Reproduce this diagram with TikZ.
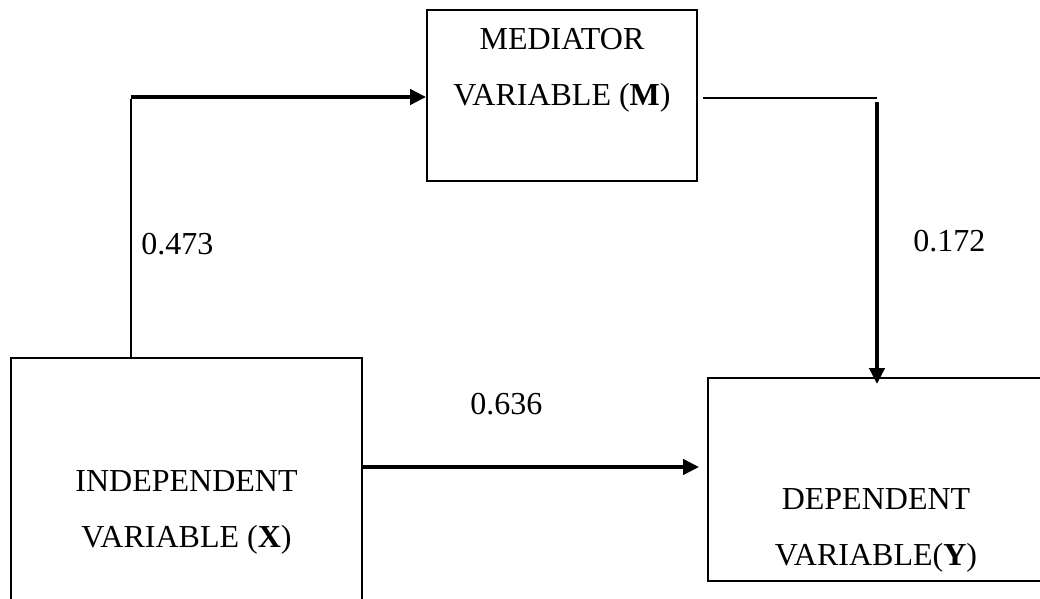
\documentclass[tikz,border=0pt]{standalone}
\usepackage{fontspec}
\setmainfont{Liberation Serif}
\usetikzlibrary{arrows.meta,positioning}
\tikzset{
  varbox/.style = {rectangle, draw=black, line width=0.9pt, inner sep=0pt},
  vartext/.style = {align=center, font=\fontsize{16}{28}\selectfont, inner sep=0pt},
  coeff/.style = {font=\fontsize{16}{19}\selectfont, inner sep=0pt, anchor=base west},
  thinline/.style = {line width=1pt},
  thickline/.style = {line width=2pt}
}

\begin{document}
\begin{tikzpicture}[x=0.5pt,y=-0.5pt,>={Triangle[length=8pt,width=7.5pt]}]
\useasboundingbox (0,0) rectangle (1040,599);
% boxes
\node [varbox, minimum width=135pt, minimum height=85.5pt] (M) at (562,95.5) {};
\node [varbox, minimum width=175.5pt, minimum height=141pt] (X) at (186.5,499) {};
\node [varbox, minimum width=186pt, minimum height=101.5pt] (Y) at (894,479.5) {};
% box texts
\node [vartext] (Mtext) at (562,70) {MEDIATOR\\VARIABLE (\textbf{M})};
\node [vartext] (Xtext) at (186.5,512) {INDEPENDENT\\VARIABLE (\textbf{X})};
\node [vartext] (Ytext) at (876,530) {DEPENDENT\\VARIABLE(\textbf{Y})};
% paths
\coordinate (xm) at (131,97);
\coordinate (my) at (877,98);
\draw [thinline] (X.north -| xm) -- ([yshift=-1pt]xm);
\draw [thickline,->] (xm) -- (M.west |- xm);
\draw [thinline, shorten <=2.5pt] (M.east |- my) -- (my);
\draw [thickline,->, shorten >=-3.5pt] ([yshift=-2pt]my) -- (Y.north -| my);
\draw [thickline,->, shorten >=4pt] (X.east |- 0,467) -- (Y.west |- 0,467);
% coefficients
\node [coeff] (a) at (141,255) {0.473};
\node [coeff] (b) at (913,251) {0.172};
\node [coeff] (c) at (470,414) {0.636};
\end{tikzpicture}
\end{document}
